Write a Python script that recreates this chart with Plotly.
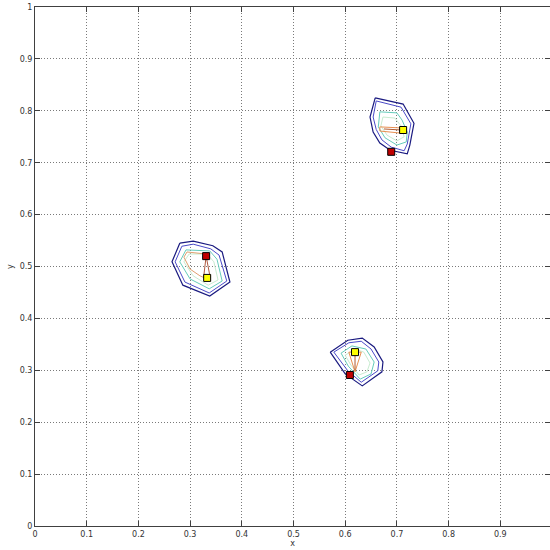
import plotly.graph_objects as go

# ---- data ----
# cluster A (top right)
a_outer_x = [0.658, 0.712, 0.733, 0.725, 0.720, 0.687, 0.667, 0.654, 0.648, 0.658]
a_outer_y = [0.825, 0.813, 0.776, 0.734, 0.717, 0.724, 0.738, 0.759, 0.788, 0.825]
a_inner_x = [0.660, 0.708, 0.727, 0.720, 0.714, 0.689, 0.671, 0.660, 0.654, 0.660]
a_inner_y = [0.819, 0.807, 0.775, 0.736, 0.723, 0.730, 0.744, 0.764, 0.788, 0.819]
a_teal_x = [0.667, 0.700, 0.710, 0.720, 0.718, 0.700, 0.677, 0.664, 0.667]
a_teal_y = [0.798, 0.796, 0.782, 0.759, 0.740, 0.734, 0.748, 0.769, 0.798]
a_green_x = [0.673, 0.696, 0.708, 0.714, 0.700, 0.681, 0.669, 0.673]
a_green_y = [0.788, 0.786, 0.771, 0.750, 0.742, 0.753, 0.771, 0.788]
a_orange_x = [0.667, 0.708, 0.708, 0.667, 0.667]
a_orange_y = [0.769, 0.767, 0.757, 0.761, 0.769]
a_brown_x = [0.675, 0.708]
a_brown_y = [0.765, 0.763]

# cluster B (left)
b_outer_x = [0.280, 0.306, 0.344, 0.362, 0.377, 0.338, 0.286, 0.265, 0.280]
b_outer_y = [0.545, 0.549, 0.540, 0.528, 0.470, 0.443, 0.464, 0.509, 0.545]
b_inner_x = [0.284, 0.306, 0.340, 0.356, 0.371, 0.337, 0.290, 0.271, 0.284]
b_inner_y = [0.539, 0.543, 0.534, 0.522, 0.472, 0.449, 0.470, 0.509, 0.539]
b_teal_x = [0.292, 0.338, 0.352, 0.362, 0.337, 0.300, 0.280, 0.292]
b_teal_y = [0.532, 0.530, 0.514, 0.472, 0.457, 0.476, 0.509, 0.532]
b_green_x = [0.298, 0.333, 0.346, 0.354, 0.335, 0.306, 0.288, 0.298]
b_green_y = [0.524, 0.524, 0.509, 0.474, 0.464, 0.482, 0.509, 0.524]
b_orange_x = [0.331, 0.294, 0.288, 0.300, 0.319, 0.333]
b_orange_y = [0.524, 0.528, 0.518, 0.495, 0.482, 0.476]
b_brown_x = [0.331, 0.326, 0.339, 0.331]
b_brown_y = [0.520, 0.478, 0.478, 0.520]

# cluster C (bottom)
c_outer_x = [0.571, 0.605, 0.633, 0.656, 0.673, 0.671, 0.633, 0.600, 0.571]
c_outer_y = [0.335, 0.358, 0.362, 0.345, 0.316, 0.297, 0.270, 0.293, 0.335]
c_inner_x = [0.578, 0.607, 0.631, 0.650, 0.665, 0.663, 0.631, 0.605, 0.578]
c_inner_y = [0.335, 0.353, 0.356, 0.341, 0.316, 0.299, 0.277, 0.299, 0.335]
c_teal_x = [0.592, 0.613, 0.640, 0.656, 0.650, 0.629, 0.606, 0.592]
c_teal_y = [0.333, 0.347, 0.341, 0.316, 0.293, 0.283, 0.308, 0.333]
c_green_x = [0.600, 0.619, 0.636, 0.648, 0.642, 0.627, 0.611, 0.600]
c_green_y = [0.329, 0.341, 0.335, 0.314, 0.297, 0.291, 0.310, 0.329]
c_orange_x = [0.607, 0.631, 0.619, 0.607]
c_orange_y = [0.335, 0.335, 0.297, 0.335]
c_brown_x = [0.619, 0.619]
c_brown_y = [0.328, 0.300]

red_x = [0.689, 0.331, 0.609]
red_y = [0.721, 0.520, 0.291]
yellow_x = [0.712, 0.333, 0.619]
yellow_y = [0.763, 0.478, 0.335]

tick_vals = [0, 0.1, 0.2, 0.3, 0.4, 0.5, 0.6, 0.7, 0.8, 0.9, 1]
tick_text = ["0", "0.1", "0.2", "0.3", "0.4", "0.5", "0.6", "0.7", "0.8", "0.9", "1"]

# ---- figure ----
fig = go.Figure()

def line(xs, ys, color, w=1.0):
    fig.add_trace(go.Scatter(x=xs, y=ys, mode="lines",
                             line=dict(color=color, width=w),
                             hoverinfo="skip", showlegend=False))

for xs, ys, col, w in [
    (a_outer_x, a_outer_y, "#1a1a80", 1.2), (a_inner_x, a_inner_y, "#4a4ac8", 1.0),
    (a_teal_x, a_teal_y, "#66ccbb", 1.0), (a_green_x, a_green_y, "#c8ecd0", 1.0),
    (a_orange_x, a_orange_y, "#e89050", 1.0), (a_brown_x, a_brown_y, "#b05a30", 1.0),
    (b_outer_x, b_outer_y, "#1a1a80", 1.2), (b_inner_x, b_inner_y, "#4a4ac8", 1.0),
    (b_teal_x, b_teal_y, "#66ccbb", 1.0), (b_green_x, b_green_y, "#c8ecd0", 1.0),
    (b_orange_x, b_orange_y, "#e0a070", 1.0), (b_brown_x, b_brown_y, "#b05a40", 1.0),
    (c_outer_x, c_outer_y, "#1a1a80", 1.2), (c_inner_x, c_inner_y, "#4a4ac8", 1.0),
    (c_teal_x, c_teal_y, "#66ccbb", 1.0), (c_green_x, c_green_y, "#c8ecd0", 1.0),
    (c_orange_x, c_orange_y, "#e89050", 1.0), (c_brown_x, c_brown_y, "#b05a30", 1.0),
]:
    line(xs, ys, col, w)

fig.add_trace(go.Scatter(x=red_x, y=red_y, mode="markers",
                         marker=dict(symbol="square", size=7, color="#c00000",
                                     line=dict(color="black", width=1)),
                         showlegend=False))
fig.add_trace(go.Scatter(x=yellow_x, y=yellow_y, mode="markers",
                         marker=dict(symbol="square", size=7, color="#ffff00",
                                     line=dict(color="black", width=1)),
                         showlegend=False))

axis_common = dict(
    showline=True, linecolor="#404040", linewidth=1, mirror="ticks",
    ticks="inside", ticklen=5, tickcolor="#404040",
    showgrid=True, gridcolor="#7a7a7a", griddash="1px,2px", gridwidth=1,
    zeroline=False, tickvals=tick_vals, ticktext=tick_text,
    tickfont=dict(family="DejaVu Sans", size=8, color="#333333"),
    ticklabeloverflow="allow",
    automargin=False,
)

fig.update_layout(
    width=550, height=550,
    margin=dict(l=35, r=0, t=7, b=24),
    paper_bgcolor="white", plot_bgcolor="white",
    xaxis=dict(range=[0, 0.9961], title=dict(text="x", standoff=2,
               font=dict(family="DejaVu Sans", size=8, color="#333333")), **axis_common),
    yaxis=dict(range=[0, 1], title=dict(text="y", standoff=4,
               font=dict(family="DejaVu Sans", size=8, color="#333333")), **axis_common),
)

# remove the browser's default 8px page margin so the 550x550 figure fills the window
fig.write_html("out.html",
               config={"displayModeBar": False},
               post_script="document.body.style.margin='0';document.body.style.overflow='hidden';")
